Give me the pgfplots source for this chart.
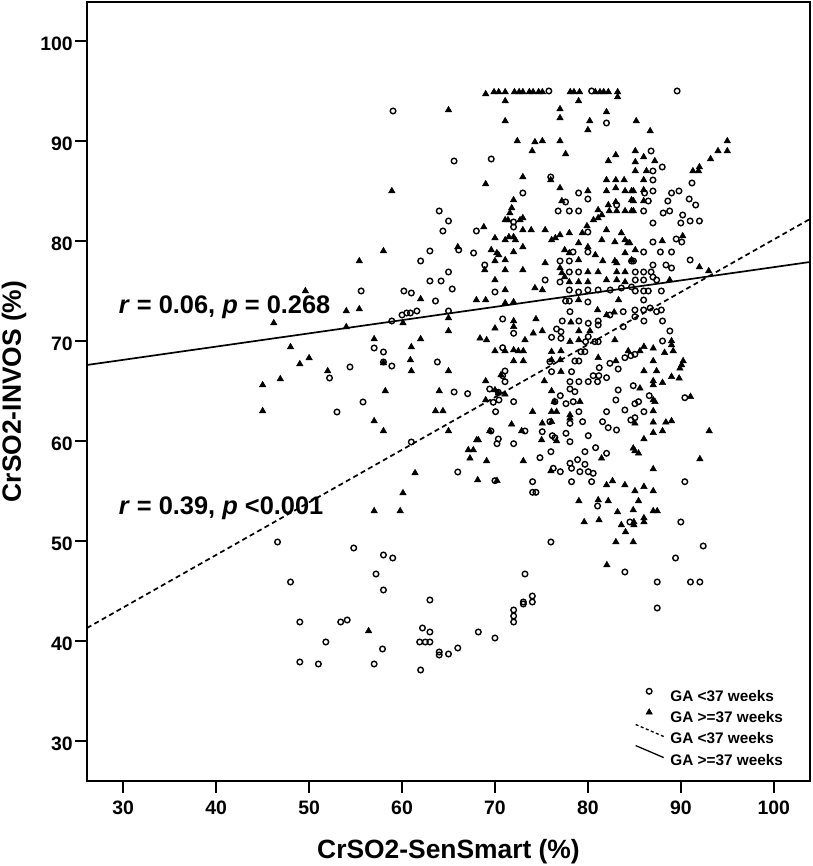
\documentclass[border=0pt]{standalone}
\usepackage{fontspec}
\setmainfont{Liberation Sans}
\usepackage{pgfplots}
\pgfplotsset{compat=1.18}
\pgfplotsset{
 markleg/.style={legend image code/.code={\path[draw=none, fill=none] (0bp,0bp) rectangle (28bp,15bp); \draw[##1] plot coordinates {(13.5bp,5bp)};}},
 dashleg/.style={legend image code/.code={\path[draw=none, fill=none] (0bp,0bp) rectangle (28bp,15bp); \draw[##1, line width=1.3bp, dash pattern=on 3bp off 2.5bp] (0bp,14bp) -- (28bp,2bp);}},
 solidleg/.style={legend image code/.code={\path[draw=none, fill=none] (0bp,0bp) rectangle (28bp,15bp); \draw[##1, line width=1.3bp] (0bp,14bp) -- (28bp,2bp);}},
}
\begin{document}
\begin{tikzpicture}
\path[use as bounding box] (0,0) rectangle (813bp,866bp);
\begin{axis}[
 scale only axis, width=723bp, height=779bp,
 at={(87bp,85bp)}, anchor=south west,
 xmin=26.1, xmax=103.9, ymin=26, ymax=103.9,
 xtick={30,40,...,100}, ytick={30,40,...,100},
 tick align=outside, xtick pos=lower, ytick pos=left,
 major tick length=12bp,
 every tick/.style={black, line width=1.6bp},
 axis line style={line width=1.6bp},
 /pgf/number format/assume math mode=true,
 ticklabel style={font=\bfseries\fontsize{19.5}{19.5}\selectfont, inner sep=0pt},
 xticklabel style={anchor=base, yshift=-21bp},
 yticklabel style={anchor=east, xshift=-2bp, yshift=-3bp},
 xlabel={CrSO2-SenSmart (\%)},
 ylabel={CrSO2-INVOS (\%)},
 label style={font=\bfseries\fontsize{26.5}{26.5}\selectfont, inner sep=0pt},
 xlabel style={at={(axis description cs:0.5,-0.1001)}, anchor=base},
 ylabel style={at={(axis description cs:-0.0913,0.5)}, anchor=base},
 legend style={draw=none, fill=none, inner sep=0pt, outer sep=0pt, at={(axis description cs:0.758,0.128)}, anchor=north west,
   font=\bfseries\fontsize{15.4}{15.4}\selectfont, row sep=0.6bp, column sep=6bp,
   nodes={inner sep=0pt, text height=11bp, text depth=0bp}},
 legend cell align=left,
]
\addplot[only marks, mark=o, mark size=2.8bp, mark options={line width=1.4bp, black}, markleg]
coordinates {
(59.03,93.0)(65.6,88.0)(64.0,83.0)(65.0,82.0)(64.4,81.0)(63.0,79.0)(62.0,78.0)(65.0,76.9)(63.0,76.0)(64.2,76.0)
(65.4,75.2)(55.6,75.0)(60.2,75.0)(61.0,74.8)(63.6,74.0)(61.6,73.0)(60.9,72.8)(60.5,72.8)(60.0,72.6)(65.0,73.0)
(58.9,72.0)(57.0,69.3)(58.0,68.9)(58.0,67.9)(58.9,67.5)(54.4,67.4)(63.8,67.9)(52.2,66.3)
(65.6,64.9)(55.8,63.9)(53.0,62.9)(61.0,59.9)(66.0,56.9)(46.6,49.9)(54.8,49.3)(58.0,48.6)(59.0,48.3)(57.2,46.7)
(58.0,45.1)(48.0,45.9)(63.0,44.1)(49.0,41.9)(53.4,41.9)(54.1,42.1)(51.8,39.9)(62.2,41.3)(63.0,40.9)(61.9,39.9)
(62.5,39.9)(63.0,39.9)(64.0,38.9)(64.0,38.6)(65.0,38.7)(66.0,39.3)(49.0,37.9)(51.0,37.7)(57.0,37.7)(57.9,39.2)(62.0,37.1)
(75.8,95.0)(80.4,95.0)(82.0,91.8)(69.6,88.2)(76.0,86.4)(73.0,84.8)(79.0,84.8)(80.0,84.2)(77.6,83.9)(76.8,83.0)
(78.0,83.0)(79.0,83.0)(83.1,83.6)(72.0,81.9)(72.0,81.4)(68.0,81.0)(80.0,80.9)(66.1,79.1)(67.7,78.8)(78.4,78.9)
(80.0,78.9)(68.9,77.6)(77.0,78.0)(78.0,78.0)(78.0,76.9)(79.0,76.9)(84.7,78.0)(70.0,74.9)(75.4,76.1)(77.0,75.9)
(78.0,75.1)(79.0,74.9)(80.0,75.1)(81.1,75.1)(82.4,75.1)(83.6,75.3)(84.7,75.4)(77.6,74.0)(78.0,74.0)(80.0,73.9)
(89.6,95.0)(86.8,89.0)(87.0,87.0)(88.0,87.4)(87.0,86.1)(91.2,85.8)(86.1,84.8)(87.0,85.0)(89.0,84.8)(89.8,85.0)
(86.5,84.0)(88.6,84.0)(90.9,84.2)(91.6,83.6)(86.0,83.0)(88.1,82.8)(88.8,83.0)(90.2,82.6)(90.0,81.8)(91.0,82.0)
(92.0,82.0)(87.0,81.8)(89.5,80.2)(90.1,79.9)(87.0,79.9)(86.0,78.9)(87.8,78.9)(89.0,78.9)(84.9,78.0)(87.0,77.6)
(88.4,77.6)(89.0,77.3)(91.0,78.1)(85.1,76.9)(86.0,76.9)(86.8,76.9)(87.0,76.4)(85.1,76.1)(86.0,76.1)(87.4,76.1)
(85.1,75.0)(86.0,75.0)(86.5,75.0)(87.9,75.0)(86.0,74.1)(86.0,73.1)(86.7,73.3)(87.9,73.1)
(78.07,72.93)(83.80,72.93)(70.83,72.2)(77.24,72.0)(79.03,72.0)(80.04,71.77)(81.11,72.0)(81.11,71.6)(83.80,71.43)(82.37,72.6)
(72.01,70.77)(76.63,71.2)(77.10,70.93)(76.09,70.37)(77.10,70.27)(80.04,70.43)(80.75,69.93)(79.75,69.93)(81.11,69.93)(70.83,69.33)
(79.25,68.93)(79.68,68.93)(78.60,68.0)(79.03,68.0)(75.91,67.93)(71.08,67.0)(70.83,66.53)(71.08,65.93)(76.09,66.93)(78.24,66.93)
(82.37,67.77)(83.26,67.2)(81.22,67.33)(80.57,66.53)(81.18,66.53)(82.01,66.33)(83.98,68.33)(84.62,68.53)(78.07,65.93)(79.03,65.93)
(80.04,65.93)(81.04,65.93)(84.88,65.53)(69.43,65.2)(67.06,64.73)(70.36,64.87)(69.82,63.87)(70.43,64.1)(72.01,63.93)(70.07,62.93)
(78.07,65.2)(78.60,64.93)(77.03,64.53)(76.45,63.93)(77.64,63.73)(78.42,63.93)(83.26,65.1)(83.01,64.1)(79.03,62.93)(82.01,62.93)
(83.98,63.1)(78.07,61.77)(79.43,61.93)(81.58,61.93)(82.19,61.33)(83.08,61.1)(84.62,62.1)(75.91,61.93)(75.09,60.93)(73.23,61.0)
(69.57,61.0)(70.36,60.2)(70.22,59.73)(72.01,59.73)(76.17,60.53)(76.45,60.33)(77.64,60.77)(80.04,60.53)(78.07,59.93)(76.02,58.93)
(74.84,58.33)(79.68,58.93)(80.83,59.33)(82.01,58.77)(78.07,57.77)(78.89,58.13)(79.68,57.67)(78.24,57.27)(79.14,56.93)(80.04,56.93)
(80.57,56.77)(80.40,55.93)(76.27,57.27)(77.03,56.93)(78.24,55.93)(74.05,55.93)(74.05,54.87)(74.41,54.87)(70.0,56.03)
(85.06,73.1)(85.06,72.43)(87.39,72.93)(86.03,72.0)(88.03,72.0)(88.82,71.0)(88.03,70.0)(85.06,68.67)(86.6,64.53)(85.06,63.73)
(85.45,63.93)(86.03,62.93)(85.06,62.33)(90.43,64.33)(90.43,55.93)
(76.02,49.9)(73.23,46.7)(74.02,44.5)(74.02,43.9)(73.05,43.9)(73.05,43.7)(72.01,43.1)(72.01,42.5)(72.01,41.9)(68.21,40.9)
(70.0,40.3)(83.98,46.9)(81.04,53.5)(84.52,51.9)
(90.0,51.9)(92.41,49.5)(89.43,48.3)(87.46,45.9)(91.04,45.9)(92.05,45.9)(87.46,43.3)
};
\addlegendentry{GA <37 weeks}
\addplot[only marks, mark=triangle*, mark size=3.7bp, mark options={line width=0.5bp, black, fill=black}, markleg]
coordinates {
(65.0,93.1)(58.9,85.0)(58.0,79.0)(55.4,78.0)(66.0,79.4)(49.6,75.0)(54.0,73.0)(55.4,73.2)(46.2,71.8)(54.0,71.4)
(62.0,74.2)(60.1,71.8)(65.0,72.3)(65.0,71.0)(48.0,69.4)(57.0,70.2)(61.0,69.4)(62.0,70.2)(49.0,67.7)(50.0,68.3)
(52.0,67.0)(58.0,67.8)(60.9,68.1)(61.0,67.0)(65.0,67.0)(46.9,66.2)
(45.0,65.6)(45.0,63.0)(58.2,65.0)(64.0,65.0)(63.6,63.0)(64.4,63.0)(57.0,62.0)(58.0,61.0)(65.0,61.0)(61.4,56.8)
(60.1,54.8)(57.0,53.0)(59.8,53.0)(56.4,41.0)
(69.0,94.7)(69.9,94.9)(70.4,94.9)(71.1,94.9)(72.1,94.9)(72.6,94.9)(73.0,94.9)(73.7,94.9)(74.1,94.9)(74.7,94.9)
(75.1,94.9)(78.1,94.9)(78.5,94.9)(79.1,94.9)(80.8,94.9)(81.3,94.9)(81.7,94.9)(82.2,94.9)(83.2,94.9)
(71.1,94.0)(79.0,94.0)(83.2,94.4)(77.0,93.2)(77.0,92.3)(82.0,92.9)(71.1,92.0)(80.2,92.0)(80.0,91.1)(72.4,90.0)
(74.3,89.9)(75.1,90.0)(77.0,90.0)(74.0,89.0)(77.6,88.7)(82.2,88.0)(83.0,88.6)(69.0,85.7)(73.0,86.4)(76.0,86.1)
(77.0,85.3)(82.0,86.1)(83.0,86.1)(83.9,86.1)(82.0,85.0)(83.0,85.3)(84.0,85.0)(84.7,85.0)(80.0,85.0)(77.2,84.0)
(72.0,84.1)(71.8,83.3)(71.6,82.8)(71.4,82.1)(71.1,82.1)(81.1,83.1)(82.2,83.6)(83.0,83.9)(84.7,84.1)(82.3,83.0)
(83.1,83.0)(84.0,83.0)(84.7,83.0)(80.6,82.1)(81.1,82.3)(81.5,82.6)(73.0,82.3)(72.7,82.1)(68.8,81.4)(73.0,81.1)
(73.9,81.1)(75.4,81.1)(79.9,81.5)(82.0,81.1)(83.6,80.8)(70.0,80.3)(71.1,80.1)(71.5,80.4)(72.0,80.4)(72.2,80.1)
(76.1,80.1)(76.5,80.3)(77.0,80.6)(78.0,80.8)(79.4,80.8)(79.0,79.8)(80.0,79.4)(81.5,80.1)(82.9,79.9)(84.0,80.1)
(84.3,79.8)(73.0,79.4)(69.6,79.1)(70.2,78.8)(70.4,78.6)(72.0,78.9)(70.0,78.0)(71.1,78.1)(77.5,79.1)(78.0,78.8)
(80.8,78.6)(81.6,78.0)(82.9,78.0)(84.0,78.8)(84.7,78.1)(68.9,77.1)(71.1,77.1)(73.0,77.1)(75.4,77.8)(77.0,77.3)
(77.2,76.8)(77.5,76.4)(80.0,76.9)(81.1,76.9)(79.0,78.1)(83.1,77.8)(83.1,76.9)(84.0,76.9)(70.0,76.1)(71.1,75.1)
(74.3,75.3)(75.1,75.1)(78.0,75.9)(79.0,75.9)(80.0,75.9)(82.0,76.1)(83.1,76.1)(84.0,75.9)(68.0,74.1)(69.0,74.1)
(71.1,73.8)(72.0,73.9)(79.0,74.1)(83.3,74.1)
(85.2,92.0)(86.7,91.0)(95.0,90.0)(94.0,89.0)(95.0,89.0)(93.2,88.2)(92.0,87.4)(91.3,87.0)(91.9,87.0)(85.1,89.0)
(86.0,88.4)(87.2,88.0)(85.1,87.9)(85.1,87.0)(86.3,87.0)(86.0,86.1)(84.9,85.0)(86.0,85.1)(84.9,84.0)(86.0,84.0)
(84.9,83.0)(90.2,80.5)(88.0,80.0)(84.5,79.8)(85.1,79.1)(92.0,77.4)(93.0,77.0)(88.8,76.1)
(81.04,73.1)(82.01,72.6)(82.83,72.87)(72.01,72.0)(74.41,72.2)(70.0,71.27)(74.12,70.77)(75.09,71.0)(72.01,71.43)(68.39,70.27)
(69.1,70.1)(73.23,70.1)(78.17,71.87)(79.03,71.0)(80.22,71.0)(78.07,69.93)(79.03,70.1)(82.90,70.1)(70.0,69.0)(71.08,69.0)
(72.01,69.1)(72.51,69.0)(73.05,69.0)(72.01,68.0)(73.05,68.0)(76.09,68.93)(77.10,69.0)(76.09,68.1)(77.03,68.1)(81.11,68.33)
(83.01,68.0)(84.34,69.0)(77.10,66.93)(70.65,66.6)(75.31,66.0)(69.0,66.0)(70.0,65.1)(70.36,64.77)(71.08,64.67)(69.0,64.1)
(76.09,65.0)(76.38,63.93)(76.09,62.93)(76.63,62.93)(79.14,63.93)(74.05,62.93)(78.07,62.6)(78.07,62.27)(71.79,61.67)(75.09,61.77)
(76.09,61.93)(69.43,61.0)(72.87,61.0)(75.02,60.1)(76.63,60.0)(68.03,60.1)(68.21,60.1)(67.13,59.1)(67.67,59.1)(67.31,58.27)
(69.1,58.0)(73.05,58.0)(81.47,58.27)(84.88,59.27)(76.02,57.0)(68.14,56.1)(70.22,56.03)(82.01,55.6)(82.65,56.0)(83.98,55.6)
(79.03,54.0)(81.11,54.1)(82.19,54.0)
(86.03,69.43)(87.03,69.27)(85.6,69.0)(88.25,68.83)(89.0,70.0)(89.0,69.6)(89.18,69.0)(90.25,68.0)(89.9,67.27)(90.08,67.6)
(87.03,68.0)(86.03,67.0)(87.39,67.0)(87.03,66.0)(87.03,65.6)(88.03,65.83)(89.0,66.43)(89.82,66.27)(85.6,65.27)(87.03,64.1)
(87.21,63.93)(91.04,64.43)(87.03,63.0)(85.06,61.77)(87.03,61.87)(88.39,61.87)(89.0,62.0)(87.03,60.83)(88.03,61.0)(93.05,61.0)
(86.03,60.2)(85.06,59.0)(85.45,58.77)(92.05,58.2)(87.03,57.2)(85.06,55.0)(86.03,55.43)(87.03,55.0)(85.45,54.0)
(79.6,51.9)(81.2,52.1)(83.19,52.9)(83.6,51.6)(84.05,50.9)(83.01,49.9)(84.88,49.9)(82.04,47.6)(84.88,53.1)
(87.03,53.0)(87.46,53.0)(86.03,52.3)(86.03,51.9)(84.95,51.9)(84.95,51.6)
};
\addlegendentry{GA >=37 weeks}
\addplot[black, line width=1.7bp, dash pattern=on 5bp off 3.5bp, dashleg]
coordinates {(26.1,41.3) (103.9,82.2)};
\addlegendentry{GA <37 weeks}
\addplot[black, line width=1.7bp, solidleg]
coordinates {(26.1,67.6) (103.9,77.9)};
\addlegendentry{GA >=37 weeks}
\node[anchor=base west, inner sep=0pt, font=\bfseries\fontsize{25.5}{25.5}\selectfont] at (axis cs:29.5,72.7) {\textit{r} = 0.06, \textit{p} = 0.268};
\node[anchor=base west, inner sep=0pt, font=\bfseries\fontsize{25.5}{25.5}\selectfont] at (axis cs:29.5,52.6) {\textit{r} = 0.39, \textit{p} <0.001};
\end{axis}
\end{tikzpicture}
\end{document}
